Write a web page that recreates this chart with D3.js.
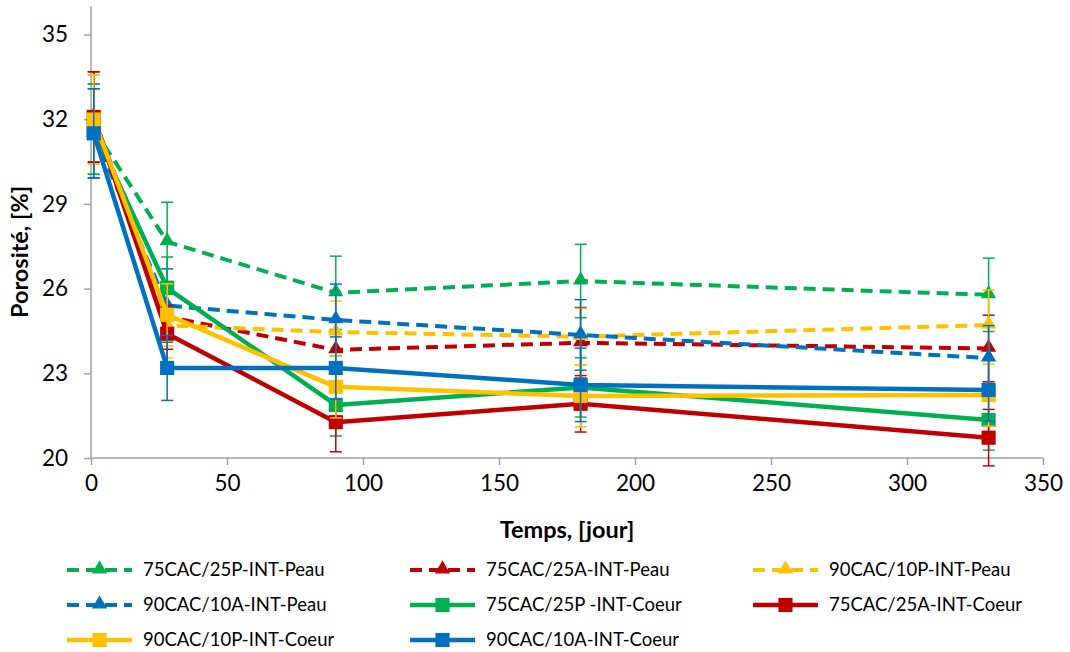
<!DOCTYPE html>
<html><head><meta charset="utf-8">
<script src="https://cdn.jsdelivr.net/npm/d3@7"></script>
<style>
html,body{margin:0;padding:0;background:#fff;}
text{font-family:Lato,"Open Sans",sans-serif;fill:#000;}
</style></head>
<body>
<svg id="chart" width="1070" height="652"></svg>
<script>
const days = [1, 28, 90, 180, 330];
const xTicks = [0, 50, 100, 150, 200, 250, 300, 350];
const yTicks = [20, 23, 26, 29, 32, 35];

const seriesNames = [
  "75CAC/25P-INT-Peau", "75CAC/25A-INT-Peau", "90CAC/10P-INT-Peau",
  "90CAC/10A-INT-Peau", "75CAC/25P -INT-Coeur", "75CAC/25A-INT-Coeur",
  "90CAC/10P-INT-Coeur", "90CAC/10A-INT-Coeur"
];
const seriesColors = ["#00B050", "#C00000", "#FFC000", "#0070C0", "#00B050", "#C00000", "#FFC000", "#0070C0"];
const seriesDashed = [true, true, true, true, false, false, false, false];
const seriesMarker = ["triangle", "triangle", "triangle", "triangle", "square", "square", "square", "square"];

const vGreenPeau  = [31.65, 27.66, 25.85, 26.27, 25.78];
const vRedPeau    = [32.08, 25.00, 23.83, 24.08, 23.88];
const vYellowPeau = [31.99, 24.70, 24.46, 24.30, 24.71];
const vBluePeau   = [31.50, 25.40, 24.89, 24.36, 23.54];
const vGreenCoeur = [31.65, 26.02, 21.88, 22.50, 21.35];
const vRedCoeur   = [32.08, 24.40, 21.27, 21.92, 20.72];
const vYellowCoeur= [31.99, 25.07, 22.52, 22.20, 22.23];
const vBlueCoeur  = [31.50, 23.19, 23.19, 22.59, 22.41];

const eGreenPeau  = [1.60, 1.40, 1.30, 1.30, 1.30];
const eRedPeau    = [1.60, 1.15, 1.10, 1.25, 1.18];
const eYellowPeau = [1.58, 1.15, 1.10, 1.00, 1.24];
const eBluePeau   = [1.58, 1.30, 1.27, 1.25, 1.15];
const eGreenCoeur = [1.60, 1.10, 1.10, 1.05, 1.07];
const eRedCoeur   = [1.60, 1.00, 1.05, 1.00, 1.00];
const eYellowCoeur= [1.58, 1.10, 1.10, 1.10, 1.10];
const eBlueCoeur  = [1.58, 1.15, 1.10, 1.30, 1.10];

const seriesValues = [vGreenPeau, vRedPeau, vYellowPeau, vBluePeau, vGreenCoeur, vRedCoeur, vYellowCoeur, vBlueCoeur];
const seriesErrors = [eGreenPeau, eRedPeau, eYellowPeau, eBluePeau, eGreenCoeur, eRedCoeur, eYellowCoeur, eBlueCoeur];

const svg = d3.select("#chart");
const x = d3.scaleLinear().domain([0, 350]).range([91, 1043]);
const y = d3.scaleLinear().domain([20, 36]).range([458, 6.3]);
const axisColor = "#A0A0A0";

// axes
const gx = svg.append("g").attr("transform", `translate(0,${y(20)})`)
  .call(d3.axisBottom(x).tickValues(xTicks).tickSize(7).tickPadding(10).tickFormat(d3.format("d")));
const gy = svg.append("g").attr("transform", `translate(${x(0)},0)`)
  .call(d3.axisLeft(y).tickValues(yTicks).tickSize(7).tickPadding(16).tickFormat(d3.format("d")));
[gx, gy].forEach(g => {
  g.select(".domain").attr("stroke", axisColor).attr("stroke-width", 1.5);
  g.selectAll(".tick line").attr("stroke", axisColor).attr("stroke-width", 1.5);
  g.selectAll(".tick text").attr("font-family", "Lato").attr("font-size", 22.5).attr("fill", "#000");
});
gx.select(".domain").attr("d", `M${x(0)},0H${x(350)}`);
gy.select(".domain").attr("d", `M0,${y(20)}V${y(36)}`);

svg.append("text").attr("x", 567).attr("y", 538).attr("text-anchor", "middle")
  .attr("font-size", 23.5).attr("font-weight", "bold").text("Temps, [jour]");
svg.append("text").attr("transform", "translate(28,252) rotate(-90)").attr("text-anchor", "middle")
  .attr("font-size", 23.5).attr("font-weight", "bold").text("Porosité, [%]");

const line = d3.line().x(d => x(d[0])).y(d => y(d[1]));
const tri = d3.symbol().type(d3.symbolTriangle).size(100);
const sq = d3.symbol().type(d3.symbolSquare).size(200);

seriesNames.forEach((name, i) => {
  const pts = days.map((d, j) => [d, seriesValues[i][j], seriesErrors[i][j]]);
  const g = svg.append("g");
  const col = seriesColors[i];
  // error bars
  pts.forEach(p => {
    const top = y(p[1] + p[2]), bot = y(p[1] - p[2]), cx = x(p[0]);
    g.append("line").attr("x1", cx).attr("x2", cx).attr("y1", top).attr("y2", bot).attr("stroke", col).attr("stroke-width", 1.5);
    g.append("line").attr("x1", cx - 6).attr("x2", cx + 6).attr("y1", top).attr("y2", top).attr("stroke", col).attr("stroke-width", 1.5);
    g.append("line").attr("x1", cx - 6).attr("x2", cx + 6).attr("y1", bot).attr("y2", bot).attr("stroke", col).attr("stroke-width", 1.5);
  });
  g.append("path").attr("d", line(pts)).attr("fill", "none").attr("stroke", col)
    .attr("stroke-width", seriesDashed[i] ? 4 : 4.5)
    .attr("stroke-dasharray", seriesDashed[i] ? "12,7" : null)
    .attr("stroke-linejoin", "round");
  g.selectAll(".m").data(pts).join("path")
    .attr("transform", p => `translate(${x(p[0])},${y(p[1]) + (seriesMarker[i] === "triangle" ? -1 : 0)})`)
    .attr("d", seriesMarker[i] === "triangle" ? tri() : sq()).attr("fill", col);
});

// legend
const colX = [67, 410, 753];
const rowY = [570, 605, 640];
seriesNames.forEach((name, i) => {
  const cx = colX[i % 3], cy = rowY[Math.floor(i / 3)];
  const g = svg.append("g").attr("transform", `translate(${cx},${cy})`);
  const col = seriesColors[i];
  g.append("line").attr("x1", 0).attr("x2", 65).attr("y1", 0).attr("y2", 0).attr("stroke", col)
    .attr("stroke-width", seriesDashed[i] ? 4 : 4.5).attr("stroke-dasharray", seriesDashed[i] ? "12,7" : null);
  g.append("path").attr("transform", `translate(32.5,${seriesMarker[i] === "triangle" ? -1 : 0})`)
    .attr("d", seriesMarker[i] === "triangle" ? tri() : sq()).attr("fill", col);
  g.append("text").attr("x", 76).attr("y", 0).attr("dy", "0.35em").attr("font-size", 18.5).text(name);
});
</script>
</body></html>
